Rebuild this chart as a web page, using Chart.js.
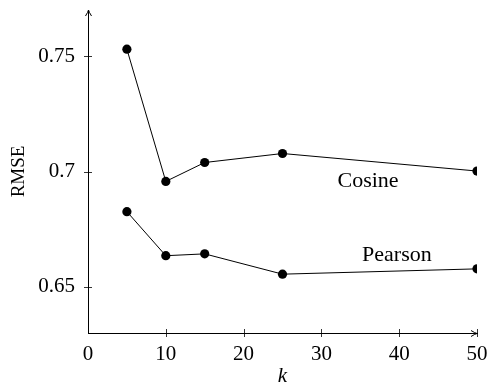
<!DOCTYPE html>
<html>
<head>
<meta charset="utf-8">
<script src="https://cdn.jsdelivr.net/npm/chart.js@4/dist/chart.umd.min.js"></script>
<style>
  html, body { margin: 0; padding: 0; background: #fff; }
  #wrap { width: 490px; height: 385px; }
</style>
</head>
<body>
<div id="wrap"><canvas id="canvas" width="490" height="385"></canvas></div>
<script>
// values
let kValues = [5, 10, 15, 25, 50];
let cosine = [0.753, 0.6957, 0.7039, 0.7078, 0.7002];
let pearson = [0.6826, 0.6635, 0.6643, 0.6555, 0.6578];
let xTicks = [0, 10, 20, 30, 40, 50];
let yTicks = [0.65, 0.7, 0.75];
let curveNames = ['Cosine', 'Pearson'];
let nameX = [36, 39.7];
let nameY = [0.6957, 0.6638];

const serif = '"Liberation Serif", "DejaVu Serif", serif';

function toPoints(ys) {
  return kValues.map((k, i) => ({x: k, y: ys[i]}));
}

// pgfplots style extras: crossing ticks, arrow heads, curve names
const axisExtras = {
  id: 'axisExtras',
  afterDraw(chart) {
    let c = chart.ctx;
    let xs = chart.scales.x, ys = chart.scales.y;
    let a = chart.chartArea;
    c.save();
    c.strokeStyle = '#000';
    c.lineWidth = 0.8;
    c.beginPath();
    xTicks.forEach(t => {
      let px = Math.round(xs.getPixelForValue(t)) + 0.5;
      if (t === 0) return;
      c.moveTo(px, a.bottom - 4);
      c.lineTo(px, a.bottom + 4);
    });
    yTicks.forEach(t => {
      let py = Math.round(ys.getPixelForValue(t)) + 0.5;
      c.moveTo(a.left - 4, py);
      c.lineTo(a.left + 4, py);
    });
    c.stroke();

    // arrow heads
    c.lineWidth = 1;
    c.beginPath();
    let ax = a.right, ay = a.bottom + 0.5;
    c.moveTo(ax - 6, ay - 3); c.quadraticCurveTo(ax - 2, ay - 0.5, ax, ay);
    c.quadraticCurveTo(ax - 2, ay + 0.5, ax - 6, ay + 3);
    let bx = a.left + 0.5, by = a.top;
    c.moveTo(bx - 3, by + 6); c.quadraticCurveTo(bx - 0.5, by + 2, bx, by);
    c.quadraticCurveTo(bx + 0.5, by + 2, bx + 3, by + 6);
    c.stroke();

    c.fillStyle = '#000';
    c.font = '22px ' + serif;
    c.textAlign = 'center';
    c.textBaseline = 'middle';
    curveNames.forEach((n, i) => {
      c.fillText(n, xs.getPixelForValue(nameX[i]), ys.getPixelForValue(nameY[i]));
    });
    c.restore();
  }
};

let ctx = document.getElementById('canvas').getContext('2d');
let chart = new Chart(ctx, {
  type: 'line',
  data: {
    datasets: [
      {label: 'Cosine', data: toPoints(cosine)},
      {label: 'Pearson', data: toPoints(pearson)}
    ].map(d => Object.assign(d, {
      borderColor: '#000', borderWidth: 1, backgroundColor: '#000',
      pointRadius: 4.6, pointHoverRadius: 4.6, pointBackgroundColor: '#000',
      pointBorderWidth: 0, tension: 0, fill: false
    }))
  },
  options: {
    responsive: false,
    animation: false,
    events: [],
    layout: {padding: {left: 0, right: 13, top: 10, bottom: 0}, autoPadding: false},
    plugins: {legend: {display: false}, tooltip: {enabled: false}},
    scales: {
      x: {
        type: 'linear', min: 0, max: 50,
        afterBuildTicks: s => { s.ticks = xTicks.map(v => ({value: v})); },
        afterFit: s => { s.height = 52; s.paddingLeft = 0; s.paddingRight = 0; },
        grid: {drawOnChartArea: false, drawTicks: false},
        border: {display: true, color: '#000', width: 1},
        ticks: {color: '#000', padding: 9, font: {family: serif, size: 21}, maxRotation: 0},
        title: {display: true, text: 'k', color: '#000', padding: {top: 0, bottom: -4},
                font: {family: serif, size: 21, style: 'italic'}}
      },
      y: {
        type: 'linear', min: 0.63, max: 0.77,
        afterBuildTicks: s => { s.ticks = yTicks.map(v => ({value: v})); },
        afterFit: s => { s.width = 88; s.paddingTop = 0; s.paddingBottom = 0; },
        grid: {drawOnChartArea: false, drawTicks: false},
        border: {display: true, color: '#000', width: 1},
        ticks: {color: '#000', padding: 13, font: {family: serif, size: 21},
                callback: v => String(v)},
        title: {display: true, text: 'RMSE', color: '#000', padding: {top: 8, bottom: 0},
                font: {family: serif, size: 19}}
      }
    }
  },
  plugins: [axisExtras]
});
</script>
</body>
</html>
